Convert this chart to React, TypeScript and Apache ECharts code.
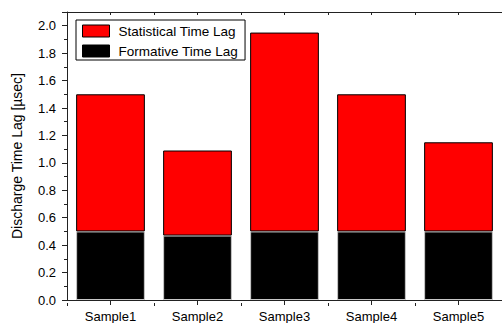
import React, { useEffect, useRef } from "react";
import * as echarts from "echarts";

const categories = ["Sample1", "Sample2", "Sample3", "Sample4", "Sample5"];
const formativeLag = [0.5, 0.47, 0.5, 0.5, 0.5];
const statisticalLag = [1.0, 0.62, 1.45, 1.0, 0.65];
const seriesNames = ["Statistical Time Lag", "Formative Time Lag"];

export default function App() {
  const ref = useRef<HTMLDivElement>(null);
  useEffect(() => {
    if (!ref.current) return;
    const chart = echarts.init(ref.current, undefined, { renderer: "svg" });
    const font = "Arial, 'Liberation Sans', sans-serif";
    const gridBox = { left: 67, top: 12, width: 438, height: 291 };
    const axisLine = { show: true, lineStyle: { color: "#222", width: 1 } };
    chart.setOption({
      animation: false,
      backgroundColor: "#fff",
      textStyle: { fontFamily: font },
      grid: [
        { ...gridBox, containLabel: false },
        { ...gridBox, containLabel: false },
      ],
      legend: {
        data: seriesNames.map((n) => ({ name: n, itemStyle: { borderColor: "#000", borderWidth: 1 } })),
        orient: "vertical",
        left: 76,
        top: 20,
        padding: [4, 7, 2, 6],
        itemWidth: 27,
        itemHeight: 12,
        itemGap: 6,
        borderColor: "#000",
        borderWidth: 1,
        icon: "rect",
        textStyle: {
          fontSize: 13.5,
          color: "#000",
          fontFamily: font,
          lineHeight: 13,
          padding: [0, 0, 0, 4],
        },
      },
      xAxis: [
        {
          type: "category",
          gridIndex: 0,
          position: "bottom",
          data: categories,
          axisLine,
          axisTick: { show: true, alignWithLabel: true, length: 5, inside: false, lineStyle: { color: "#222" } },
          axisLabel: { fontSize: 13, color: "#000", margin: 10, fontFamily: font },
          splitLine: { show: false },
        },
        {
          type: "category",
          gridIndex: 0,
          position: "top",
          data: categories,
          axisLine,
          axisTick: { show: true, alignWithLabel: true, length: 3, inside: true, lineStyle: { color: "#222" } },
          axisLabel: { show: false },
          splitLine: { show: false },
        },
        {
          type: "category",
          gridIndex: 1,
          position: "bottom",
          data: categories,
          axisLine: { show: false },
          axisTick: { show: true, length: 3, inside: false, lineStyle: { color: "#222" } },
          axisLabel: { show: false },
          splitLine: { show: false },
        },
        {
          type: "category",
          gridIndex: 1,
          position: "top",
          data: categories,
          axisLine: { show: false },
          axisTick: { show: true, length: 3, inside: true, lineStyle: { color: "#222" } },
          axisLabel: { show: false },
          splitLine: { show: false },
        },
      ],
      yAxis: [
        {
          type: "value",
          gridIndex: 0,
          min: 0,
          max: 2.1,
          interval: 0.2,
          name: "Discharge Time Lag [\u00b5sec]",
          nameLocation: "middle",
          nameGap: 43,
          nameTextStyle: { fontSize: 14, color: "#000", fontFamily: font },
          axisLine,
          axisTick: { show: true, length: 5, lineStyle: { color: "#222" } },
          minorTick: { show: true, splitNumber: 2, length: 3, lineStyle: { color: "#222" } },
          axisLabel: {
            fontSize: 13,
            color: "#000",
            margin: 11,
            showMaxLabel: false,
            fontFamily: font,
            formatter: (v: number) => v.toFixed(1),
          },
          splitLine: { show: false },
        },
        {
          type: "value",
          gridIndex: 1,
          min: 0,
          max: 2.1,
          show: false,
        },
      ],
      series: [
        {
          name: "Formative Time Lag",
          type: "bar",
          stack: "lag",
          xAxisIndex: 0,
          yAxisIndex: 0,
          barCategoryGap: "21%",
          data: formativeLag,
          itemStyle: { color: "#000", borderColor: "#c8c8c8", borderWidth: 1 },
        },
        {
          name: "Statistical Time Lag",
          type: "bar",
          stack: "lag",
          xAxisIndex: 0,
          yAxisIndex: 0,
          barCategoryGap: "21%",
          data: statisticalLag,
          itemStyle: { color: "#ff0000", borderColor: "#000", borderWidth: 1 },
        },
      ],
    });
    return () => chart.dispose();
  }, []);
  return (
    <div
      ref={ref}
      style={{ position: "fixed", left: 0, top: 0, width: 502, height: 323, background: "#fff" }}
    />
  );
}
